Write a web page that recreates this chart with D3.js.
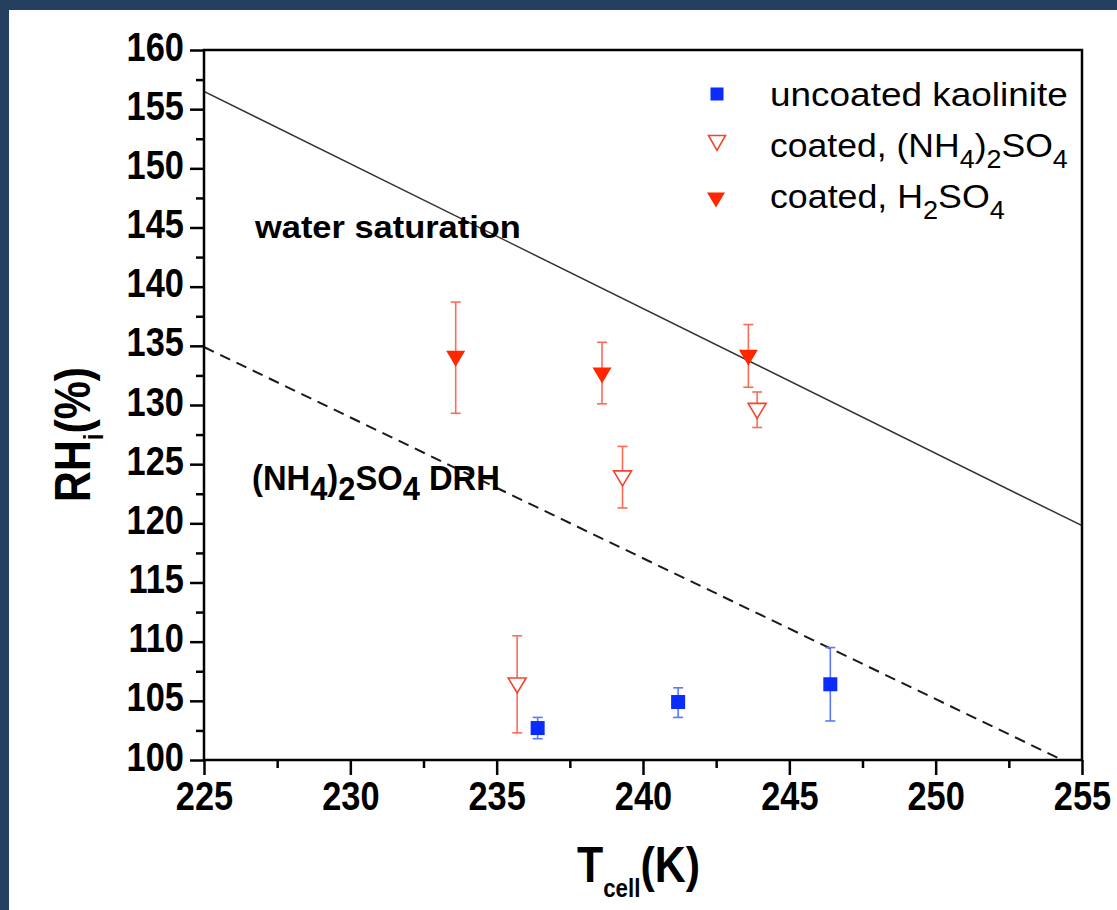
<!DOCTYPE html>
<html>
<head>
<meta charset="utf-8">
<script src="https://cdn.jsdelivr.net/npm/d3@7"></script>
<style>
  html, body { margin: 0; padding: 0; background: #fff; }
  svg { display: block; }
  text { font-family: "Liberation Sans", Arial, Helvetica, sans-serif; }
</style>
</head>
<body>
<div id="chart"></div>
<script>
'use strict'

// uncoated kaolinite
const kaoT = [236.4, 241.2, 246.4]
const kaoRH = [102.7, 104.9, 106.4]
const kaoLo = [101.8, 103.6, 103.3]
const kaoHi = [103.6, 106.1, 109.5]

// coated, (NH4)2SO4  (open triangles)
const amsT = [235.7, 239.3, 243.9]
const amsRH = [106.3, 123.8, 129.5]
const amsLo = [102.3, 121.3, 128.1]
const amsHi = [110.5, 126.5, 131.1]

// coated, H2SO4  (filled triangles)
const sulfT = [233.6, 238.6, 243.6]
const sulfRH = [133.9, 132.5, 134.0]
const sulfLo = [129.3, 130.1, 131.5]
const sulfHi = [138.7, 135.3, 136.8]

// reference lines
const waterSatT = [225, 255]
const waterSatRH = [156.5, 119.8]
const drhT = [225, 255]
const drhRH = [134.9, 99.2]

const xMajor = [225, 230, 235, 240, 245, 250, 255]
const xMinor = [227.5, 232.5, 237.5, 242.5, 247.5, 252.5]
const yMajor = [100, 105, 110, 115, 120, 125, 130, 135, 140, 145, 150, 155, 160]
const yMinor = [102.5, 107.5, 112.5, 117.5, 122.5, 127.5, 132.5, 137.5, 142.5, 147.5, 152.5, 157.5]

const legendLabels = [
  [['uncoated kaolinite', 0]],
  [['coated, (NH', 0], ['4', 1], [')', 0], ['2', 1], ['SO', 0], ['4', 1]],
  [['coated, H', 0], ['2', 1], ['SO', 0], ['4', 1]]
]

const W = 1117, H = 910
const blue = '#0a2cff', blueBar = '#5a78ff'
const red = '#ff2600', redBar = '#ff6a55', redOpen = '#f2452c'

const x = d3.scaleLinear().domain([225, 255]).range([204, 1082])
const y = d3.scaleLinear().domain([100, 160]).range([760, 50])

const svg = d3.select('#chart').append('svg')
  .attr('width', W)
  .attr('height', H)

svg.append('rect').attr('width', W).attr('height', H).attr('fill', '#fff')
// dark frame on top/left edges of the picture
svg.append('rect').attr('x', 0).attr('y', 0).attr('width', W).attr('height', 10).attr('fill', '#243f60')
svg.append('rect').attr('x', 0).attr('y', 0).attr('width', 9).attr('height', H).attr('fill', '#243f60')

svg.append('clipPath').attr('id', 'plot-clip')
  .append('rect')
  .attr('x', x(225)).attr('y', y(160))
  .attr('width', x(255) - x(225)).attr('height', y(100) - y(160))

// write text made of normal/subscript segments
function segText(g, segs, size, subSize, subDy, weight) {
  let t = g.append('text')
    .attr('font-size', size)
    .attr('font-weight', weight)
    .attr('fill', '#000')
  let down = false
  segs.forEach(([s, sub]) => {
    let ts = t.append('tspan').text(s)
    if (sub) {
      ts.attr('font-size', subSize)
      if (!down) ts.attr('dy', subDy)
      down = true
    } else {
      if (down) ts.attr('dy', -subDy)
      down = false
    }
  })
  return t
}

// squeeze/stretch a text horizontally to the width measured on the picture
function fit(t, width) {
  let w = t.node().getBBox().width
  t.attr('transform', `scale(${width / w},1)`)
}

// ---- reference lines
let line = d3.line().x(d => x(d[0])).y(d => y(d[1]))
let lines = svg.append('g').attr('clip-path', 'url(#plot-clip)')
lines.append('path')
  .attr('d', line(waterSatT.map((t, i) => [t, waterSatRH[i]])))
  .attr('fill', 'none').attr('stroke', '#333').attr('stroke-width', 1.5)
lines.append('path')
  .attr('d', line(drhT.map((t, i) => [t, drhRH[i]])))
  .attr('fill', 'none').attr('stroke', '#1a1a1a').attr('stroke-width', 2)
  .attr('stroke-dasharray', '11,7')

// ---- axes
let xAxisMinor = svg.append('g').attr('transform', `translate(0,${y(100)})`)
  .call(d3.axisBottom(x).tickValues(xMinor).tickSize(8).tickFormat(''))
let xAxis = svg.append('g').attr('transform', `translate(0,${y(100)})`)
  .call(d3.axisBottom(x).tickValues(xMajor).tickSize(15).tickFormat(d3.format('d')))
let yAxisMinor = svg.append('g').attr('transform', `translate(${x(225)},0)`)
  .call(d3.axisLeft(y).tickValues(yMinor).tickSize(8).tickFormat(''))
let yAxis = svg.append('g').attr('transform', `translate(${x(225)},0)`)
  .call(d3.axisLeft(y).tickValues(yMajor).tickSize(14).tickFormat(d3.format('d')))

;[xAxisMinor, xAxis, yAxisMinor, yAxis].forEach(a => {
  a.select('.domain').remove()
  a.selectAll('.tick line').attr('stroke', '#000').attr('stroke-width', 2.5)
})

xAxis.selectAll('.tick text')
  .attr('y', 0).attr('dy', null)
  .attr('font-size', 40).attr('font-weight', 'bold')
  .attr('fill', '#000').attr('text-anchor', 'middle')
  .attr('font-family', '"Liberation Sans", Arial, sans-serif')
  .attr('transform', 'translate(0,50) scale(0.86,1)')

yAxis.selectAll('.tick text')
  .attr('x', 0).attr('dy', null)
  .attr('font-size', 40).attr('font-weight', 'bold')
  .attr('fill', '#000').attr('text-anchor', 'end')
  .attr('font-family', '"Liberation Sans", Arial, sans-serif')
  .attr('transform', 'translate(-20,10) scale(0.86,1)')

svg.append('rect')
  .attr('x', x(225)).attr('y', y(160))
  .attr('width', x(255) - x(225)).attr('height', y(100) - y(160))
  .attr('fill', 'none').attr('stroke', '#000').attr('stroke-width', 2.5)

// ---- error bars + markers
function downTri(w, h) {
  return `M${-w / 2},${-h / 2}L${w / 2},${-h / 2}L0,${h / 2}Z`
}

function errorBars(ts, lo, hi, color) {
  let g = svg.append('g').attr('stroke', color).attr('stroke-width', 1.6).attr('fill', 'none')
  ts.forEach((t, i) => {
    let cx = x(t)
    g.append('line').attr('x1', cx).attr('x2', cx).attr('y1', y(lo[i])).attr('y2', y(hi[i]))
    g.append('line').attr('x1', cx - 5).attr('x2', cx + 5).attr('y1', y(lo[i])).attr('y2', y(lo[i]))
    g.append('line').attr('x1', cx - 5).attr('x2', cx + 5).attr('y1', y(hi[i])).attr('y2', y(hi[i]))
  })
}

errorBars(kaoT, kaoLo, kaoHi, blueBar)
errorBars(amsT, amsLo, amsHi, redBar)
errorBars(sulfT, sulfLo, sulfHi, redBar)

svg.append('g').selectAll('rect').data(kaoT).join('rect')
  .attr('x', d => x(d) - 7)
  .attr('y', (d, i) => y(kaoRH[i]) - 7)
  .attr('width', 14).attr('height', 14)
  .attr('fill', blue)

svg.append('g').selectAll('path').data(amsT).join('path')
  .attr('d', downTri(18, 15))
  .attr('transform', (d, i) => `translate(${x(d)},${y(amsRH[i])})`)
  .attr('fill', '#fff').attr('stroke', redOpen).attr('stroke-width', 1.6)

svg.append('g').selectAll('path').data(sulfT).join('path')
  .attr('d', downTri(19, 16))
  .attr('transform', (d, i) => `translate(${x(d)},${y(sulfRH[i])})`)
  .attr('fill', red)

// ---- legend
let legY = [94, 143, 200]
let legBase = [106, 157, 208]
let legW = [298, 298, 235]
let leg = svg.append('g')
leg.append('rect').attr('x', 717 - 6.5).attr('y', legY[0] - 6.5).attr('width', 13).attr('height', 13).attr('fill', blue)
leg.append('path').attr('d', downTri(17, 15)).attr('transform', `translate(717,${legY[1]})`)
  .attr('fill', '#fff').attr('stroke', redOpen).attr('stroke-width', 1.6)
leg.append('path').attr('d', downTri(18, 15)).attr('transform', `translate(716,${legY[2]})`)
  .attr('fill', red)
legendLabels.forEach((segs, i) => {
  let g = leg.append('g').attr('transform', `translate(770,${legBase[i]})`)
  fit(segText(g, segs, 33, 25, 11, 'normal'), legW[i])
})

// ---- annotations
let ws = svg.append('g').attr('transform', 'translate(255,238)')
fit(segText(ws, [['water saturation', 0]], 32, 32, 0, 'bold'), 267)

let drh = svg.append('g').attr('transform', 'translate(252,490)')
fit(segText(drh, [['(NH', 0], ['4', 1], [')', 0], ['2', 1], ['SO', 0], ['4', 1], [' DRH', 0]], 35, 33, 10, 'bold'), 248)

// ---- axis titles
let yt = svg.append('g').attr('transform', 'translate(90,502) rotate(-90)')
fit(segText(yt, [['RH', 0], ['i', 1], ['(%)', 0]], 50, 28, 13, 'bold'), 135)

let xt = svg.append('g').attr('transform', 'translate(577,882)')
fit(segText(xt, [['T', 0], ['cell', 1], ['(K)', 0]], 50, 26, 15, 'bold'), 123)
</script>
</body>
</html>
